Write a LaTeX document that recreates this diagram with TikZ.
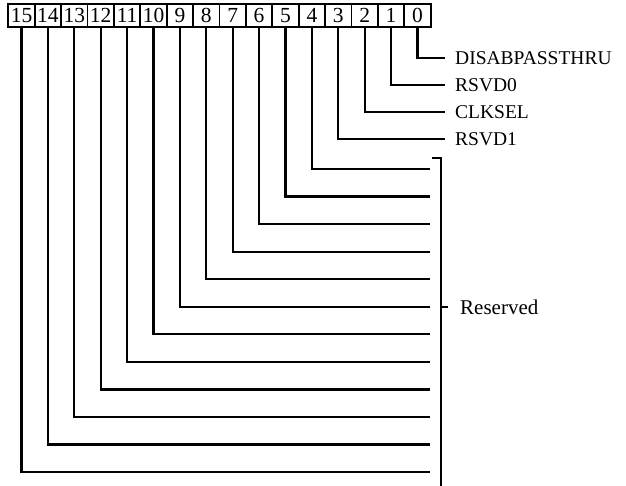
\documentclass[tikz,border=0pt]{standalone}
\usepackage{fontspec}
\setmainfont{Liberation Serif}
\begin{document}
\begin{tikzpicture}[x=1pt,y=-1pt,
  bitbox/.style={draw,line width=1.8pt,minimum width=26.4pt,minimum height=23pt,inner sep=0pt,font=\fontsize{21.5}{21.5}\selectfont},
  wire/.style={line width=2.2pt},
  brk/.style={line width=1.5pt},
  lbl/.style={anchor=west,inner sep=0pt,font=\fontsize{19.5}{19.5}\selectfont}]
\useasboundingbox[fill=white] (0,0) rectangle (626,486);
% bit boxes
\foreach \i in {0,...,15}{
  \node[bitbox] (b\i) at ({417.5-26.4*\i},15.5) {\i};
}
% named fields
\node[lbl] (l0) at (455,58) {DISABPASSTHRU};
\node[lbl] (l1) at (455,85) {RSVD0};
\node[lbl] (l2) at (455,112) {CLKSEL};
\node[lbl] (l3) at (455,139) {RSVD1};
\foreach \i in {0,...,3}{
  \draw[wire] (b\i.south) |- ([xshift=-10pt]l\i.west);
}
% reserved bits
\foreach \i in {4,...,15}{
  \coordinate (e\i) at (430,{169+27.55*(\i-4)});
  \draw[wire] (b\i.south) |- (e\i);
}
% bracket
\coordinate (btl) at (432,158);
\coordinate (bt) at (441,158);
\coordinate (bb) at (441,486);
\coordinate (rt) at (441,307);
\node[lbl,font=\fontsize{21}{21}\selectfont] (res) at (460,307) {Reserved};
\draw[brk] (btl) -- (bt) -- (bb);
\draw[brk] (rt) -- ([xshift=-12pt]res.west);
\end{tikzpicture}
\end{document}
